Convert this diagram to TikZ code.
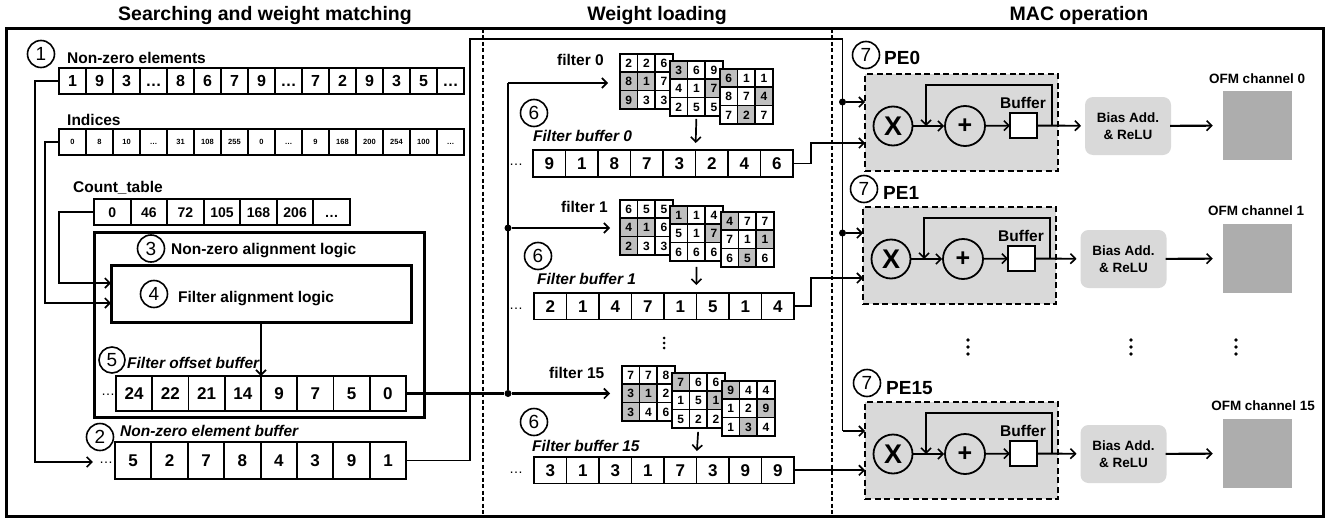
\documentclass[tikz,border=0pt]{standalone}
\usepackage{fontspec}
\setmainfont{Liberation Sans}
\usetikzlibrary{arrows.meta}
\definecolor{W}{HTML}{FFFFFF}
\definecolor{G}{HTML}{BFBFBF}
\definecolor{pegray}{HTML}{D9D9D9}
\definecolor{ofmgray}{HTML}{ADADAD}
\tikzset{
  barb/.style={-{Straight Barb[length=5pt,width=10pt,line width=1.6pt]}},
  conn/.style={line width=1.7pt,line join=miter},
  connthick/.style={line width=2.1pt,line join=miter},
  frame/.style={draw,line width=3pt,inner sep=0,outer sep=0},
  lab/.style={anchor=base west,inner sep=0,font=\fontsize{15.5}{18}\selectfont\bfseries},
  ilab/.style={anchor=base west,inner sep=0,font=\fontsize{15.5}{18}\selectfont\bfseries\itshape},
  head/.style={anchor=base,inner sep=0,font=\fontsize{19.5}{22}\selectfont\bfseries},
  ofmlab/.style={anchor=base,inner sep=0,font=\fontsize{13.5}{16}\selectfont\bfseries},
  numc/.style={draw,circle,line width=1.6pt,minimum size=27pt,inner sep=0,font=\fontsize{19}{20}\selectfont},
  junc/.style={circle,fill=black,minimum size=7pt,inner sep=0},
  vdot/.style={circle,fill=black,minimum size=3.8pt,inner sep=0},
  ldots/.style={inner sep=0,font=\fontsize{14}{14}\selectfont},
  boundary/.style={dash pattern=on 4pt off 2.5pt,line width=1.6pt},
}
\newcommand{\cellrow}[7]{%
  \foreach \v [count=\i] in {#7}{
    \node[draw,line width=1.9pt,fill=white,inner sep=0,outer sep=0,anchor=north west,
      minimum width=#4pt,minimum height=#5pt,text height={#6*0.72pt},text depth=0pt,
      font=\fontsize{#6}{#6}\selectfont\bfseries] (#1-\i) at ({#2+(\i-1)*#4},#3) {\v};
  }}
\newcommand{\fgrid}[4]{%
  \foreach \v/\f [count=\i] in {#4}{
    \pgfmathtruncatemacro{\cc}{mod(\i-1,3)}
    \pgfmathtruncatemacro{\rr}{int((\i-1)/3)}
    \node[draw,line width=1.7pt,fill=\f,inner sep=0,outer sep=0,anchor=north west,
      minimum width=17.6pt,minimum height=18.3pt,text height=8.6pt,text depth=0pt,
      font=\fontsize{12}{12}\selectfont\bfseries] (#1-\i) at ({#2+\cc*17.6},{#3+\rr*18.3}) {\v};
  }}
\newcommand{\peunit}[5]{%
  \node[draw,boundary,line width=2.2pt,dash pattern=on 6pt off 3.5pt,fill=pegray,inner sep=0,outer sep=0,anchor=north west,
    minimum width=193pt,minimum height=97pt] (#1) at ({865+#2},{#3-52}) {};
  \node[draw,circle,line width=1.8pt,fill=pegray,minimum size=39pt,inner sep=0,font=\fontsize{27}{27}\selectfont\bfseries] (#1x) at ({893+#2},#3) {X};
  \node[draw,circle,line width=1.8pt,fill=pegray,minimum size=40pt,inner sep=0,font=\fontsize{25}{25}\selectfont\bfseries] (#1p) at ({965+#2},#3) {+};
  \node[draw,line width=1.9pt,fill=white,inner sep=0,outer sep=0,minimum width=27pt,minimum height=25pt] (#1b) at ({1023.5+#2},{#3-0.5}) {};
  \node[anchor=base,inner sep=0,font=\fontsize{15.5}{18}\selectfont\bfseries] (#1bl) at ({1023+#2},{#3-18}) {Buffer};
  \node[rounded corners=8pt,fill=pegray,inner sep=0,outer sep=0,minimum width=86pt,minimum height=58pt,align=center,
    font=\fontsize{13.5}{17}\selectfont\bfseries] (#1bias) at (#4,#3) {Bias Add.\\\& ReLU};
  \node[fill=ofmgray,inner sep=0,outer sep=0,minimum width=69.5pt,minimum height=69.5pt] (#1ofm) at (1257.5,{#3-0.5}) {};
  \coordinate (#1fa) at ({1052+#2},#3);
  \coordinate (#1fb) at ({1052+#2},{#3-41});
  \coordinate (#1fc) at ({926+#2},{#3-41});
  \coordinate (#1fd) at ({926+#2},#3);
  \draw[conn,barb] (#1x) -- (#1p);
  \draw[conn,barb] (#1p) -- (#1b);
  \draw[conn,barb,line width=1.9pt,shorten >=4pt] (#1b) -- (#1bias);
  \draw[conn,barb,line width=2.1pt,shorten >=10pt,shorten <=-1pt] (#1bias) -- (#1ofm);
  \draw[conn,barb,line width=1.9pt] (#1fa) -- (#1fb) -- (#1fc) -- (#1fd);
}
\begin{document}
\begin{tikzpicture}[x=1pt,y=-1pt]
\useasboundingbox (0,0) rectangle (1327,519);
\fill[white] (0,0) rectangle (1327,519);
% headings
\node[head] (h1) at (265,21) {Searching and weight matching};
\node[head] (h2) at (657,21) {Weight loading};
\node[head] (h3) at (1079,21) {MAC operation};
% outer frame and boundaries
\node[frame,anchor=north west,minimum width=1317pt,minimum height=487pt] (outer) at (6,29) {};
\coordinate (d1t) at (483,29); \coordinate (d1b) at (483,516);
\coordinate (d2t) at (832,29); \coordinate (d2b) at (832,516);
% left section
\node[numc] (c1) at (41,54) {1};
\node[lab] (l1) at (67,63.5) {Non-zero elements};
\cellrow{nz}{59}{68}{27}{26}{16}{1,9,3,…,8,6,7,9,…,7,2,9,3,5,…}
\node[lab] (l2) at (67,125) {Indices};
\cellrow{idx}{59}{129}{27}{26}{7.5}{0,8,10,…,31,108,255,0,…,9,168,200,254,100,…}
\node[lab] (l3) at (73,192) {Count\_table};
\cellrow{ct}{94}{199}{36.57}{26}{14}{0,46,72,105,168,206,…}
\node[frame,anchor=north west,minimum width=330pt,minimum height=185pt] (nza) at (94,232) {};
\node[numc] (c3) at (151,248.5) {3};
\node[lab] (l4) at (171,254) {Non-zero alignment logic};
\node[frame,anchor=north west,minimum width=300pt,minimum height=57pt] (fa) at (111,265) {};
\node[numc] (c4) at (154,294) {4};
\node[lab] (l5) at (178,302) {Filter alignment logic};
\node[numc,minimum size=26pt] (c5) at (112,360) {5};
\node[ilab] (l6) at (127,368) {Filter offset buffer};
\cellrow{fo}{116}{376}{36.25}{35}{17}{24,22,21,14,9,7,5,0}
\node[ldots] (fod) at (108,395) {…};
\node[numc] (c2) at (100,437) {2};
\node[ilab] (l7) at (120,436) {Non-zero element buffer};
\cellrow{nb}{115}{442}{36.4}{37}{17}{5,2,7,8,4,3,9,1}
\node[ldots] (nbd) at (106,463) {…};
% filter 0
\node[lab] (f0l) at (557,66) {filter 0};
\fgrid{A0}{620}{54}{2/W,2/W,6/W,8/G,1/G,7/W,9/G,3/W,3/W}
\fgrid{B0}{670}{61}{3/G,6/W,9/W,4/W,1/W,7/G,2/W,5/W,5/W}
\fgrid{C0}{720}{69}{6/G,1/W,1/W,8/W,7/W,4/G,7/W,2/G,7/W}
\node[numc] (c60) at (534,113) {6};
\node[ilab] (b0l) at (533,141) {Filter buffer 0};
\cellrow{fb0}{533}{150}{32.5}{27}{17}{9,1,8,7,3,2,4,6}
\node[ldots] (fb0d) at (516,165) {…};
% filter 1
\node[lab] (f1l) at (561,212) {filter 1};
\fgrid{A1}{620}{200}{6/W,5/W,5/W,4/G,1/G,6/W,2/G,3/W,3/W}
\fgrid{B1}{670}{206}{1/G,1/W,4/W,5/W,1/W,7/G,6/W,6/W,6/W}
\fgrid{C1}{721}{212}{4/G,7/W,7/W,7/W,1/W,1/G,6/W,5/G,6/W}
\node[numc] (c61) at (538,256) {6};
\node[ilab] (b1l) at (537,284) {Filter buffer 1};
\cellrow{fb1}{534}{293}{32.5}{26.5}{17}{2,1,4,7,1,5,1,4}
\node[ldots] (fb1d) at (516,309) {…};
% dots
\node[vdot,minimum size=3pt] (fv1) at (664,338) {};
\node[vdot,minimum size=3pt] (fv2) at (664,343) {};
\node[vdot,minimum size=3pt] (fv3) at (664,348) {};
% filter 15
\node[lab] (f15l) at (549,378) {filter 15};
\fgrid{A15}{622}{366}{7/W,7/W,8/W,3/G,1/G,2/W,3/G,4/W,6/W}
\fgrid{B15}{672}{373}{7/G,6/W,6/W,1/W,5/W,1/G,5/W,2/W,2/W}
\fgrid{C15}{722}{381}{9/G,4/W,4/W,1/W,2/W,9/G,1/W,3/G,4/W}
\node[numc] (c615) at (534,422) {6};
\node[ilab] (b15l) at (532,451) {Filter buffer 15};
\cellrow{fb15}{534}{457}{32.5}{26.5}{17}{3,1,3,1,7,3,9,9}
\node[ldots] (fb15d) at (516,473) {…};
% PEs
\node[numc] (c70) at (866,55) {7};
\node[anchor=base west,inner sep=0,font=\fontsize{19}{22}\selectfont\bfseries] (pe0l) at (884,65) {PE0};
\peunit{pe0}{0}{126}{1128}{}
\node[ofmlab] (o0) at (1257,83) {OFM channel 0};
\node[numc] (c71) at (864,189) {7};
\node[anchor=base west,inner sep=0,font=\fontsize{19}{22}\selectfont\bfseries] (pe1l) at (883,199) {PE1};
\peunit{pe1}{-2}{259}{1123.5}{}
\node[ofmlab] (o1) at (1256,215) {OFM channel 1};
\node[numc] (c715) at (867,383) {7};
\node[anchor=base west,inner sep=0,font=\fontsize{19}{22}\selectfont\bfseries] (pe15l) at (886,394) {PE15};
\peunit{pe15}{0}{454}{1123.5}{}
\node[ofmlab] (o15) at (1263,410) {OFM channel 15};
\foreach \x/\n in {968/a,1131/b,1236/c}{
  \node[vdot] (v\n1) at (\x,340) {};
  \node[vdot] (v\n2) at (\x,347) {};
  \node[vdot] (v\n3) at (\x,354) {};
}
% connectors: left
\coordinate (nzb) at (35,462);
\coordinate (ib) at (45,303);
\coordinate (cb) at (59,283);
\draw[conn,barb,shorten >=6pt] (nz-1.west) -| (nzb) -- (nbd.west |- nzb);
\draw[conn,barb] (idx-1.west) -| (ib) -- (ib -| fa.west);
\draw[conn,barb] (ct-1.west) -| (cb) -- (cb -| fa.west);
\draw[conn,barb] (fa.south) -- (fo-5.north west);
% offset buffer to filters
\coordinate (jt) at (508,83);
\node[junc] (j1) at (508,228) {};
\node[junc] (j15) at (508,393.5) {};
\draw[connthick] (fo-8.east) -- (j15);
\draw[connthick] (jt) -- (j15);
\draw[connthick,barb,shorten >=12pt] (jt) -- (jt -| A0-4.west);
\draw[connthick,barb,shorten >=10pt] (j1) -- (j1 -| A1-4.west);
\draw[connthick,barb,shorten >=12pt] (j15) -- (j15 -| A15-4.west);
% element buffer to PEs
\coordinate (u1) at (470,39);
\coordinate (u2) at (842.5,39);
\coordinate (u3) at (842.5,431);
\node[junc] (J0) at (842.5,102) {};
\node[junc] (J1) at (842.5,233) {};
\draw[conn] (nb-8.east) -| (u1) -- (u2) -- (u3);
\draw[conn,barb] (u3) -- (u3 -| pe15.west);
\draw[conn,barb] (J0) -- (J0 -| pe0.west);
\draw[conn,barb] (J1) -- (J1 -| pe1.west);
% grids to filter buffers
\draw[conn,barb,shorten <=3pt,shorten >=7pt] (B0-8.south) -- (fb0-6.north west);
\draw[conn,barb,shorten <=6pt,shorten >=8pt] (B1-8.south) -- (fb1-6.north west);
\draw[conn,barb,shorten <=4pt,shorten >=6pt] (B15-8.south) -- (fb15-6.north west);
% filter buffers to PEs
\coordinate (b0) at (811,143);
\coordinate (b1) at (811,278);
\draw[conn,barb] (fb0-8.east) -| (b0) -- (b0 -| pe0.west);
\draw[conn,barb] (fb1-8.east) -| (b1) -- (b1 -| pe1.west);
\draw[conn,barb] (fb15-8.east) -- (fb15-8.east -| pe15.west);
% boundaries on top
\draw[boundary] (d1t) -- (d1b);
\draw[boundary] (d2t) -- (d2b);
\end{tikzpicture}
\end{document}
